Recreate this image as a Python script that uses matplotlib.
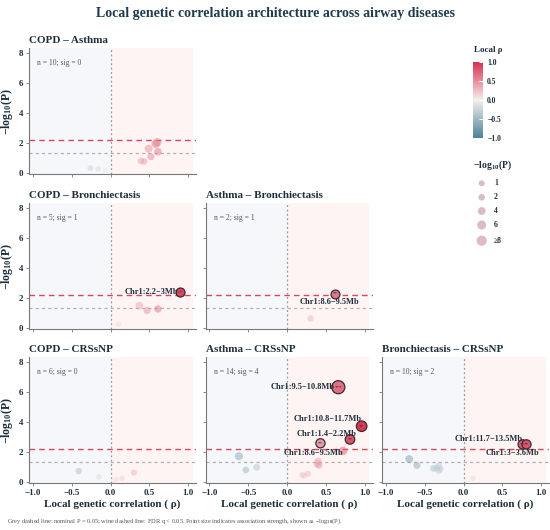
import numpy as np
import matplotlib
matplotlib.use("Agg")
import matplotlib.pyplot as plt
from matplotlib.colors import LinearSegmentedColormap, Normalize
from matplotlib.cm import ScalarMappable

plt.rcParams['font.family'] = ['Liberation Serif', 'DejaVu Serif']
plt.rcParams['mathtext.fontset'] = 'custom'
plt.rcParams['mathtext.rm'] = 'Liberation Serif'
plt.rcParams['mathtext.bf'] = 'Liberation Serif:bold'
plt.rcParams['mathtext.default'] = 'bf'

# --- data ---
panel_names = ["COPD \u2013 Asthma", "COPD \u2013 Bronchiectasis", "Asthma \u2013 Bronchiectasis",
               "COPD \u2013 CRSsNP", "Asthma \u2013 CRSsNP", "Bronchiectasis \u2013 CRSsNP"]
panel_rows = [0, 1, 1, 2, 2, 2]
panel_cols = [0, 0, 1, 0, 1, 2]

copd_asthma_rho = [-0.26, -0.16, -0.07, 0.39, 0.43, 0.52, 0.49, 0.58, 0.60, 0.61]
copd_asthma_p = [0.31, 0.25, 0.15, 0.78, 0.75, 1.07, 1.60, 1.92, 2.02, 1.40]
copd_asthma_sig = [0, 0, 0, 0, 0, 0, 0, 0, 0, 0]

copd_bron_rho = [0.10, 0.37, 0.47, 0.61, 0.89]
copd_bron_p = [0.22, 1.46, 1.15, 1.25, 2.38]
copd_bron_sig = [0, 0, 0, 0, 1]

asthma_bron_rho = [0.29, 0.62]
asthma_bron_p = [0.66, 2.28]
asthma_bron_sig = [0, 1]

copd_crs_rho = [-0.41, -0.15, 0.04, 0.08, 0.15, 0.30]
copd_crs_p = [0.71, 0.33, 0.10, 0.16, 0.22, 0.60]
copd_crs_sig = [0, 0, 0, 0, 0, 0]

asthma_crs_rho = [-0.62, -0.53, -0.39, 0.19, 0.22, 0.27, 0.39, 0.40, 0.41, 0.72, 0.66, 0.96, 0.81, 0.43]
asthma_crs_p = [1.70, 0.78, 0.96, 0.45, 0.40, 0.53, 1.18, 1.35, 1.10, 2.05, 6.30, 3.70, 2.82, 2.56]
asthma_crs_sig = [0, 0, 0, 0, 0, 0, 0, 0, 0, 0, 1, 1, 1, 1]

bron_crs_rho = [-0.70, -0.60, -0.39, -0.35, -0.32, -0.32, -0.30, 0.12, 0.76, 0.81]
bron_crs_p = [1.51, 1.09, 0.89, 0.90, 1.04, 0.74, 0.85, 0.22, 2.49, 2.49]
bron_crs_sig = [0, 0, 0, 0, 0, 0, 0, 0, 1, 1]

panel_rho = [copd_asthma_rho, copd_bron_rho, asthma_bron_rho, copd_crs_rho, asthma_crs_rho, bron_crs_rho]
panel_p = [copd_asthma_p, copd_bron_p, asthma_bron_p, copd_crs_p, asthma_crs_p, bron_crs_p]
panel_sig = [copd_asthma_sig, copd_bron_sig, asthma_bron_sig, copd_crs_sig, asthma_crs_sig, bron_crs_sig]

# labels for significant loci, in order of appearance
sig_labels = [[], ["Chr1:2.2\u22123Mb"], ["Chr1:8.6\u22129.5Mb"], [],
              ["Chr1:9.5\u221210.8Mb", "Chr1:10.8\u221211.7Mb", "Chr1:1.4\u22122.2Mb", "Chr1:8.6\u22129.5Mb"],
              ["Chr1:11.7\u221213.5Mb", "Chr1:3\u22123.6Mb"]]
sig_stars = [[], ["*"], ["**"], [], ["***", "**", "**", "**"], ["**", "**"]]
# label placement (offset in points, alignment)
label_place = [[], [((-1, 0), 'right', 'center')], [((-4, -6), 'center', 'center')], [],
               [((-3, 0), 'right', 'center'), ((0, 5), 'right', 'center'),
                ((5, 4), 'right', 'center'), ((-5, -7), 'center', 'center')],
               [((0, 4), 'right', 'center'), ((-10, -6), 'center', 'center')]]

nominal_line = 1.301
fdr_line = 2.2
size_legend_vals = [1, 2, 4, 6, 8]
size_legend_labels = ["1", "2", "4", "6", "\u22658"]
cbar_ticks = [1.0, 0.5, 0.0, -0.5, -1.0]

cmap = LinearSegmentedColormap.from_list("rho", ["#4d8197", "#f4efef", "#d8304e"])
norm = Normalize(-1, 1)


def marker_area(v):
    # area-based size scale, diameter in px -> points^2
    d_px = np.sqrt(26 + 23 * np.minimum(np.asarray(v, float), 8))
    return (d_px * 0.72) ** 2


def legend_area(v):
    d_px = 5.4 + 0.6 * np.asarray(v, float)
    return (d_px * 0.72) ** 2


W, H = 550, 530
fig = plt.figure(figsize=(W / 100, H / 100), dpi=100)
col_left = [29, 205.5, 382]
row_bottom = [174.2, 329.2, 483.2]
ax_w, ax_h = 167, 126

text_dark = "#1e2e3a"

for i, name in enumerate(panel_names):
    r, c = panel_rows[i], panel_cols[i]
    ax = fig.add_axes([col_left[c] / W, 1 - row_bottom[r] / H, ax_w / W, ax_h / H])
    ax.set_xlim(-1.05, 1.1)
    ax.set_ylim(-0.1, 8.3)
    ax.axvspan(-1.05, 0, color="#f5f7fa", zorder=0, lw=0)
    ax.axvspan(0, 1.06, color="#fef4f4", zorder=0, lw=0)
    ax.axvline(0, color="#999999", ls=(0, (1.5, 2)), lw=0.9, zorder=1)
    ax.axhline(nominal_line, color="#b0b0b0", ls=(0, (2.5, 2.5)), lw=0.9, zorder=1)
    ax.axhline(fdr_line, color="#d7465f", ls=(0, (4, 3)), lw=1.0, zorder=1)

    rho = np.array(panel_rho[i])
    lp = np.array(panel_p[i])
    sig = np.array(panel_sig[i], bool)

    ax.scatter(rho[~sig], lp[~sig], s=marker_area(lp[~sig]), c=rho[~sig], cmap=cmap, norm=norm,
               alpha=0.5, lw=0, zorder=2)
    ax.scatter(rho[sig], lp[sig], s=marker_area(lp[sig]), c=rho[sig], cmap=cmap, norm=norm,
               edgecolors="#3b2b30", linewidths=0.9, zorder=3)

    for j, (x, y) in enumerate(zip(rho[sig], lp[sig])):
        ax.text(x, y, sig_stars[i][j], fontsize=3.5, ha='center', va='center', color="#222222", zorder=4)
        off, ha, va = label_place[i][j]
        ax.annotate(sig_labels[i][j], (x, y), xytext=off, textcoords='offset points',
                    ha=ha, va=va, fontsize=6, fontweight='bold', color=text_dark, zorder=5)

    ax.text(0.048, 0.88, f"n = {len(rho)}; sig = {sig.sum()}", transform=ax.transAxes,
            fontsize=5.5, color="#555555", va='center', ha='left')
    ax.set_title(name, loc='left', fontsize=8, fontweight='bold', color=text_dark, pad=4)

    for sp in ['top', 'right']:
        ax.spines[sp].set_visible(False)
    for sp in ['left', 'bottom']:
        ax.spines[sp].set_color("#777777")
        ax.spines[sp].set_linewidth(0.8)
    ax.set_xticks([-1.0, -0.5, 0.0, 0.5, 1.0])
    ax.set_yticks([0, 2, 4, 6, 8])
    ax.tick_params(length=2.5, width=0.6, color="#777777", labelsize=6.5, pad=1.5)
    ax.set_xticklabels(["\u22121.0", "\u22120.5", "0.0", "0.5", "1.0"])
    for lab in ax.get_xticklabels() + ax.get_yticklabels():
        lab.set_fontweight('bold')
        lab.set_color(text_dark)
    if r == 2:
        ax.set_xlabel("Local genetic correlation ( \u03c1)", fontsize=8, fontweight='bold',
                      color=text_dark, labelpad=2)
    else:
        ax.tick_params(labelbottom=False)
    if c == 0:
        ax.set_ylabel("\u2212log$_{10}$(P)", fontsize=8.5, fontweight='bold', color=text_dark, labelpad=3)
    else:
        ax.tick_params(labelleft=False)

# colour bar legend
cax = fig.add_axes([473 / W, 1 - 138 / H, 10 / W, 76 / H])
cb = fig.colorbar(ScalarMappable(norm=norm, cmap=cmap), cax=cax, ticks=cbar_ticks)
cb.outline.set_visible(False)
cax.tick_params(direction='in', color='white', length=3, width=0.7, labelsize=5.5, pad=3)
cax.set_yticklabels(["1.0", "0.5", "0.0", "\u22120.5", "\u22121.0"])
for lab in cax.get_yticklabels():
    lab.set_fontweight('bold')
    lab.set_color(text_dark)
fig.text(474 / W, 1 - 50 / H, "Local \u03c1", fontsize=6.5, fontweight='bold', color=text_dark,
         ha='left', va='center')

# size legend
lax = fig.add_axes([0, 0, 1, 1])
lax.set_xlim(0, W)
lax.set_ylim(H, 0)
lax.axis('off')
lax.text(473, 165, "\u2212log$_{10}$(P)", fontsize=7, fontweight='bold', color=text_dark,
         ha='left', va='center')
leg_y = [183.3, 197.3, 211, 225, 240.7]
lax.scatter([481.7] * len(size_legend_vals), leg_y, s=legend_area(size_legend_vals),
            color="#dcbcc4", lw=0)
for y, t in zip(leg_y, size_legend_labels):
    lax.text(494, y, t, fontsize=5.5, fontweight='bold', color=text_dark, ha='left', va='center')

fig.text(0.5, 1 - 13 / H, "Local genetic correlation architecture across airway diseases",
         fontsize=10, fontweight='bold', color="#1f3b4e", ha='center', va='center')
fig.text(7 / W, 1 - 521 / H,
         "Grey dashed line: nominal P = 0.05; wine dashed line: FDR q < 0.05. "
         "Point size indicates association strength, shown as \u2212log$_{10}$(P).",
         fontsize=4.6, color="#555555", ha='left', va='center', fontweight='normal')

fig.savefig("out.png", dpi=100)
